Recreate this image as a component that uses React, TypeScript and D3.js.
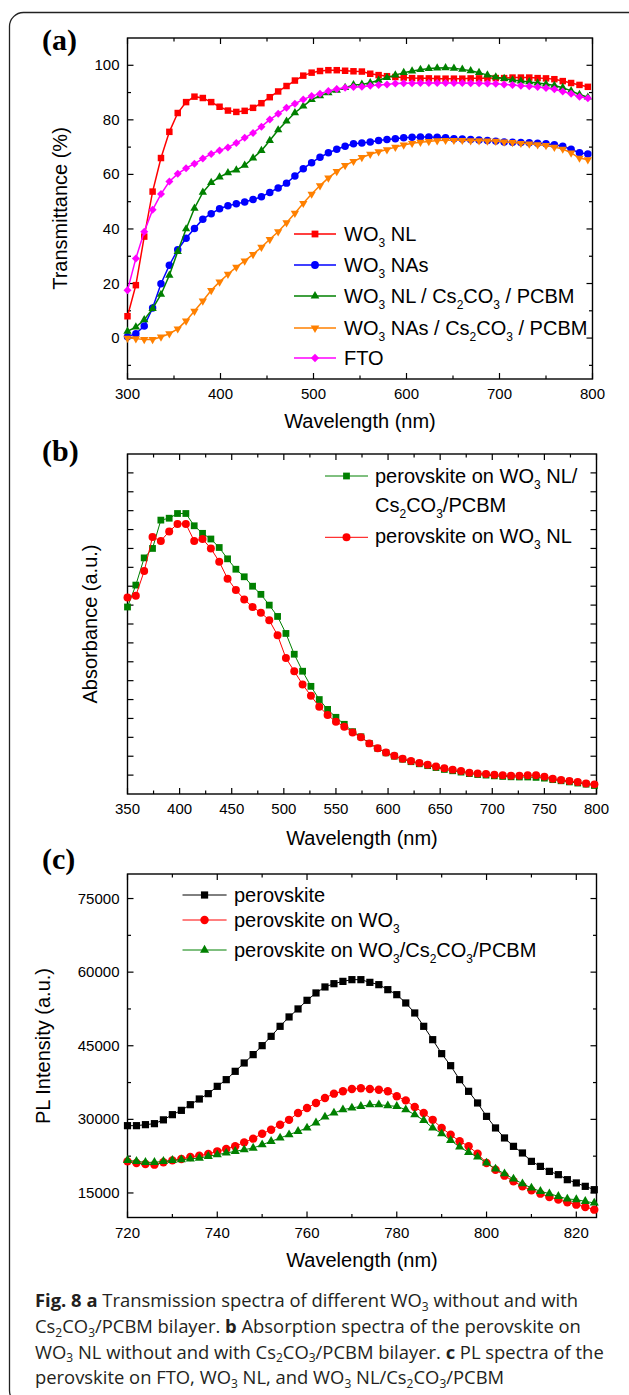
import React from "react";
import * as d3 from "d3";

// (a) transmittance of the WO3 films, markers every 9 nm
const wlA = d3.range(300, 800, 9);
const tNL = [8, 19.4, 37.2, 53.7, 66, 75.6, 82.5, 86.5, 88.5, 88, 86.5, 84.8, 83.4, 82.9, 83.3, 84.4, 86.1, 88.3, 90.4, 92.4, 94.4, 96.2, 97.3, 97.9, 98.2, 98.2, 98, 97.8,
  97.7, 96.9, 96.4, 96, 95.7, 95.5, 95.3, 95.2, 95.2, 95.1, 95.1, 95.1, 95.1, 95.2, 95.2, 95.2, 95.3, 95.3, 95.5, 95.5, 95.5, 95.3, 95.2, 94.9, 94.2, 93.5, 92.8, 92.1];
const tNAs = [0.5, 1.6, 4.4, 11, 19.9, 26.7, 32.4, 36.6, 40.2, 43.6, 45.6, 47.4, 48.5, 49.2, 49.9, 50.8, 51.8, 53.4, 55, 56.8, 59.4, 62.1, 64.3, 66.3, 67.9, 69.2, 70.3, 71.2,
  71.5, 71.9, 72.4, 72.8, 73.1, 73.4, 73.6, 73.7, 73.7, 73.6, 73.4, 73.1, 73, 72.8, 72.6, 72.4, 72.2, 71.9, 71.8, 71.7, 71.6, 71.4, 71.2, 70.9, 70.3, 69.2, 67.9, 67.5];
const tNLbi = [2.5, 4, 6.7, 10.8, 16, 23, 31.7, 40, 47.6, 53.4, 57, 59, 60.6, 61.6, 63.3, 66, 68.7, 72.4, 76.3, 79.5, 82.6, 85, 87.4, 88.8, 89.9, 90.8, 91.8, 92.8,
  93, 93.6, 94.5, 95.5, 96.4, 97.3, 97.9, 98.4, 98.8, 99, 99.1, 98.9, 98.5, 98, 97.3, 96.4, 95.7, 95.1, 94.6, 94.2, 93.9, 93.5, 93.1, 92.6, 91.8, 90.6, 89.3, 88.3];
const tNAsbi = [0, -0.2, -0.5, -0.5, 0.4, 1.6, 3.4, 6.3, 9.9, 13.6, 17.5, 20.6, 23.4, 26, 28.3, 30.7, 33.3, 36.2, 39, 42.3, 45.8, 49.4, 52.8, 55.9, 58.7, 61.1, 63.3, 64.8,
  66.2, 67.4, 68.3, 69.1, 70, 70.8, 71.4, 71.8, 72.1, 72.4, 72.5, 72.5, 72.5, 72.4, 72.4, 72.3, 72.2, 71.9, 71.7, 71.4, 71.2, 70.9, 70.6, 70, 69.3, 67.9, 66, 65.4];
const tFTO = [17.5, 29.2, 39, 47, 52.8, 57.4, 60.2, 62.3, 63.9, 65.8, 67.5, 68.8, 69.9, 71.5, 73.4, 75.2, 77.5, 80.1, 82.2, 84.4, 85.9, 87.5, 88.7, 89.6, 90.6, 91.3, 91.8, 92,
  92.1, 92.5, 92.8, 93, 93.3, 93.4, 93.4, 93.5, 93.5, 93.5, 93.5, 93.5, 93.5, 93.4, 93.4, 93.3, 93.2, 93, 92.8, 92.5, 92.3, 92, 91.7, 91.2, 90.4, 89.6, 88.5, 87.9];
const ticksAx = [300, 400, 500, 600, 700, 800];
const ticksAy = [0, 20, 40, 60, 80, 100];

// (b) absorbance (arbitrary units), markers every 8 nm
const wlB = d3.range(350, 800, 8);
const absBi = [9.9, 11.06, 12.5, 13, 14.5, 14.6, 14.85, 14.85, 14.2, 13.8, 13.5, 13.05, 12.45, 11.9, 11.5, 11, 10.57, 10, 9.4, 8.5,
  7.4, 6.5, 5.7, 5, 4.48, 4.06, 3.69, 3.3, 3.03, 2.68, 2.42, 2.18, 2, 1.84, 1.71, 1.6, 1.5, 1.4, 1.3, 1.23,
  1.16, 1.08, 1.03, 1, 0.96, 0.93, 0.91, 0.9, 0.9, 0.88, 0.84, 0.76, 0.7, 0.64, 0.58, 0.52, 0.45];
const absNL = [10.4, 10.5, 11.8, 13.6, 13.4, 13.9, 14.3, 14.3, 13.4, 13.5, 13, 12.3, 11.4, 10.8, 10.3, 9.9, 9.6, 9.2, 8.4, 7.2,
  6.5, 5.8, 5.2, 4.62, 4.18, 3.83, 3.56, 3.25, 3, 2.68, 2.42, 2.2, 2.03, 1.87, 1.75, 1.64, 1.55, 1.45, 1.36, 1.29,
  1.22, 1.13, 1.09, 1.06, 1.02, 0.99, 0.97, 0.97, 0.99, 0.99, 0.92, 0.81, 0.74, 0.69, 0.63, 0.56, 0.51];
const ticksBx = [350, 400, 450, 500, 550, 600, 650, 700, 750, 800];

// (c) PL intensity, markers every 2 nm
const wlC = d3.range(720, 825, 2);
const plPero = [28716, 28716, 28920, 29124, 29900, 30957, 31835, 32990, 34150, 35240, 36730, 38090, 39790, 41490, 43190, 45020, 46920, 48960, 50870, 52500,
  54260, 55760, 56980, 57650, 58120, 58470, 58470, 57920, 57450, 56430, 55410, 53720, 51680, 48960, 46240, 43390, 40940, 38090, 35710, 33340,
  30610, 28250, 26210, 24500, 23150, 21440, 20420, 19400, 18730, 17710, 17040, 16350, 15670];
const plWO3 = [21440, 21110, 20910, 20770, 21240, 21640, 21930, 22340, 22600, 22950, 23480, 23970, 24500, 25310, 26070, 27080, 27900, 28920, 29900, 31300,
  32320, 33340, 34360, 35240, 35710, 36190, 36320, 36190, 36050, 35710, 34690, 33870, 32520, 31300, 29900, 28250, 26880, 25520, 24500, 23010,
  21110, 19750, 18530, 17370, 16350, 15530, 14860, 14180, 13640, 13100, 12620, 12150, 11600];
const plBi = [21640, 21440, 21240, 21240, 21440, 21640, 21780, 21930, 22120, 22460, 22800, 23150, 23480, 23820, 24160, 24840, 25520, 26210, 26880, 27560,
  28250, 29300, 30490, 31300, 31980, 32320, 32650, 32990, 32990, 32790, 32650, 31980, 30950, 29800, 28250, 27080, 25720, 24370, 23280, 22340,
  21110, 19890, 18930, 17850, 16890, 16020, 15330, 14860, 14310, 13780, 13640, 13290, 12960];
const ticksCx = [720, 740, 760, 780, 800, 820];
const ticksCy = [15000, 30000, 45000, 60000, 75000];

const FONT = "'Liberation Sans', Arial, sans-serif";

const symbolTypes: any = {
  square: d3.symbolSquare,
  circle: d3.symbolCircle,
  up: d3.symbolTriangle,
  down: d3.symbolTriangle,
  diamond: d3.symbolSquare,
};
const symbolRot: any = { down: 180, diamond: 45 };

function Marker({ shape, size, x, y, color }: any) {
  const d = d3.symbol().type(symbolTypes[shape]).size(size)() as string;
  return <path d={d} fill={color} transform={`translate(${x},${y}) rotate(${symbolRot[shape] || 0})`} />;
}

// text with **bold** and _x subscripts
function rich(str: string, fs: number, subFs: number, shift: number) {
  const out: any[] = [];
  let bold = false;
  let buf = "";
  let back = 0;
  let key = 0;
  const flush = () => {
    if (!buf) return;
    out.push(<tspan key={key++} fontWeight={bold ? 700 : 400} dy={back ? -back : undefined}>{buf}</tspan>);
    back = 0;
    buf = "";
  };
  let i = 0;
  while (i < str.length) {
    if (str.startsWith("**", i)) { flush(); bold = !bold; i += 2; continue; }
    if (str[i] === "_") {
      flush();
      out.push(<tspan key={key++} fontSize={subFs} dy={shift}>{str[i + 1]}</tspan>);
      back = shift;
      i += 2;
      continue;
    }
    buf += str[i];
    i++;
  }
  flush();
  return out;
}

function Frame({ x, y, xMajor, xMinor, yMajor, yMinor, yLabels, xLabelY, fmt }: any) {
  const [l, r] = x.range();
  const [b, t] = y.range();
  const M = 6, m = 3.5;
  return (
    <g stroke="#000" strokeWidth={1.2}>
      {xMinor.map((v: number) => (
        <g key={"xm" + v}>
          <line x1={x(v)} x2={x(v)} y1={b} y2={b - m} />
          <line x1={x(v)} x2={x(v)} y1={t} y2={t + m} />
        </g>
      ))}
      {yMinor.map((v: number) => (
        <g key={"ym" + v}>
          <line x1={l} x2={l + m} y1={y(v)} y2={y(v)} />
          <line x1={r} x2={r - m} y1={y(v)} y2={y(v)} />
        </g>
      ))}
      {xMajor.map((v: number) => (
        <g key={"xM" + v}>
          <line x1={x(v)} x2={x(v)} y1={b} y2={b - M} />
          <line x1={x(v)} x2={x(v)} y1={t} y2={t + M} />
          <text x={x(v)} y={xLabelY} textAnchor="middle" stroke="none" fontSize={15}>{v}</text>
        </g>
      ))}
      {yMajor.map((v: number) => (
        <g key={"yM" + v}>
          <line x1={l} x2={l + M} y1={y(v)} y2={y(v)} />
          <line x1={r} x2={r - M} y1={y(v)} y2={y(v)} />
          {yLabels && (
            <text x={l - 8} y={y(v) + 5} textAnchor="end" stroke="none" fontSize={15}>{fmt ? fmt(v) : v}</text>
          )}
        </g>
      ))}
      <rect x={l} y={t} width={r - l} height={b - t} fill="none" strokeWidth={1.4} />
    </g>
  );
}

function Series({ x, y, xs, values, color, shape, size, lw }: any) {
  const line = d3.line<number>().x((_, i) => x(xs[i])).y((v) => y(v));
  return (
    <g>
      <path d={line(values) as string} fill="none" stroke={color} strokeWidth={lw} />
      {values.map((v: number, i: number) => (
        <Marker key={i} shape={shape} size={size} x={x(xs[i])} y={y(v)} color={color} />
      ))}
    </g>
  );
}

function LegendRow({ x0, x1, tx, y, base, label, color, shape, size, lw }: any) {
  return (
    <g>
      <line x1={x0} x2={x1} y1={y} y2={y} stroke={color} strokeWidth={lw} />
      <Marker shape={shape} size={size} x={(x0 + x1) / 2} y={y} color={color} />
      <text x={tx} y={base} fontSize={20}>{rich(label, 20, 12, 6)}</text>
    </g>
  );
}

export default function App() {
  // panel (a)
  const xA = d3.scaleLinear().domain([300, 800]).range([127.5, 592.5]);
  const yA = d3.scaleLinear().domain([-15, 110]).range([379, 38]);
  const serA = [
    { label: "WO_3 NL", values: tNL, color: "#ff0000", shape: "square", size: 42 },
    { label: "WO_3 NAs", values: tNAs, color: "#0000ff", shape: "circle", size: 44 },
    { label: "WO_3 NL / Cs_2CO_3 / PCBM", values: tNLbi, color: "#008000", shape: "up", size: 30 },
    { label: "WO_3 NAs / Cs_2CO_3 / PCBM", values: tNAsbi, color: "#ff8000", shape: "down", size: 30 },
    { label: "FTO", values: tFTO, color: "#ff00ff", shape: "diamond", size: 32 },
  ];
  const legA = [234, 265, 296, 328, 358];

  // panel (b)
  const xB = d3.scaleLinear().domain([350, 800]).range([127.5, 596.5]);
  const yB = d3.scaleLinear().domain([0, 18]).range([794, 454]);

  // panel (c)
  const xC = d3.scaleLinear().domain([720, 824.5]).range([127.5, 596.5]);
  const yC = d3.scaleLinear().domain([10000, 80000]).range([1217.5, 874]);
  const serC = [
    { label: "perovskite", values: plPero, color: "#000000", shape: "square", size: 52 },
    { label: "perovskite on WO_3", values: plWO3, color: "#ff0000", shape: "circle", size: 56 },
    { label: "perovskite on WO_3/Cs_2CO_3/PCBM", values: plBi, color: "#008000", shape: "up", size: 36 },
  ];
  const legC = [[895, 901.5], [920, 926.5], [950, 956.5]];

  const caption = [
    "**Fig. 8 a** Transmission spectra of different WO_3 without and with",
    "Cs_2CO_3/PCBM bilayer. **b** Absorption spectra of the perovskite on",
    "WO_3 NL without and with Cs_2CO_3/PCBM bilayer. **c** PL spectra of the",
    "perovskite on FTO, WO_3 NL, and WO_3 NL/Cs_2CO_3/PCBM",
  ];
  const capY = [1307, 1333, 1358.5, 1384];

  return (
    <svg width={629} height={1395} style={{ position: "absolute", left: 0, top: 0 }} fontFamily={FONT} fill="#000">
      <rect x={9.5} y={12.5} width={640} height={1392} rx={14} fill="#fff" stroke="#222" strokeWidth={1.3} />

      {/* (a) */}
      <text x={42} y={50} fontFamily="'Liberation Serif', 'Times New Roman', serif" fontWeight={700} fontSize={30}>(a)</text>
      <Frame x={xA} y={yA} xMajor={ticksAx} xMinor={d3.range(350, 800, 100)} yMajor={ticksAy} yMinor={d3.range(-10, 110, 20)} yLabels xLabelY={398.5} />
      {serA.map((s) => (
        <Series key={s.label} x={xA} y={yA} xs={wlA} values={s.values} color={s.color} shape={s.shape} size={s.size} lw={1.5} />
      ))}
      {serA.map((s, i) => (
        <LegendRow key={s.label} x0={294} x1={336} tx={344} y={legA[i]} base={legA[i] + 7} label={s.label} color={s.color} shape={s.shape} size={s.size * 1.1} lw={1.5} />
      ))}
      <text x={360} y={427.5} textAnchor="middle" fontSize={20}>Wavelength (nm)</text>
      <text transform="translate(67,208.5) rotate(-90)" textAnchor="middle" fontSize={20}>Transmittance (%)</text>

      {/* (b) */}
      <text x={42} y={461} fontFamily="'Liberation Serif', 'Times New Roman', serif" fontWeight={700} fontSize={30}>(b)</text>
      <Frame x={xB} y={yB} xMajor={ticksBx} xMinor={d3.range(375, 800, 50)} yMajor={d3.range(1, 18, 1)} yMinor={[]} yLabels={false} xLabelY={814} />
      <Series x={xB} y={yB} xs={wlB} values={absBi} color="#008000" shape="square" size={46} lw={1} />
      <Series x={xB} y={yB} xs={wlB} values={absNL} color="#ff0000" shape="circle" size={50} lw={1} />
      <LegendRow x0={325} x1={368} tx={375} y={476} base={483.3} label="perovskite on WO_3 NL/" color="#008000" shape="square" size={46} lw={1} />
      <text x={375} y={511.7} fontSize={20}>{rich("Cs_2CO_3/PCBM", 20, 12, 6)}</text>
      <LegendRow x0={325} x1={368} tx={375} y={537.3} base={543.3} label="perovskite on WO_3 NL" color="#ff0000" shape="circle" size={50} lw={1} />
      <text x={362} y={845} textAnchor="middle" fontSize={20}>Wavelength (nm)</text>
      <text transform="translate(97,624) rotate(-90)" textAnchor="middle" fontSize={20}>Absorbance (a.u.)</text>

      {/* (c) */}
      <text x={42} y={869} fontFamily="'Liberation Serif', 'Times New Roman', serif" fontWeight={700} fontSize={30}>(c)</text>
      <Frame x={xC} y={yC} xMajor={ticksCx} xMinor={d3.range(730, 825, 20)} yMajor={ticksCy} yMinor={d3.range(22500, 80000, 15000)} yLabels xLabelY={1238} />
      {serC.map((s) => (
        <Series key={s.label} x={xC} y={yC} xs={wlC} values={s.values} color={s.color} shape={s.shape} size={s.size} lw={1} />
      ))}
      {serC.map((s, i) => (
        <LegendRow key={s.label} x0={182.5} x1={226.6} tx={234} y={legC[i][0]} base={legC[i][1]} label={s.label} color={s.color} shape={s.shape} size={s.size} lw={1} />
      ))}
      <text x={362} y={1267} textAnchor="middle" fontSize={20}>Wavelength (nm)</text>
      <text transform="translate(50,1046) rotate(-90)" textAnchor="middle" fontSize={20}>PL Intensity (a.u.)</text>

      {/* caption */}
      {caption.map((c, i) => (
        <text key={i} x={35} y={capY[i]} fontFamily="'Open Sans', 'Noto Sans', sans-serif" fontSize={18.4} fill="#231f20">
          {rich(c, 18.4, 12, 3.5)}
        </text>
      ))}
    </svg>
  );
}
